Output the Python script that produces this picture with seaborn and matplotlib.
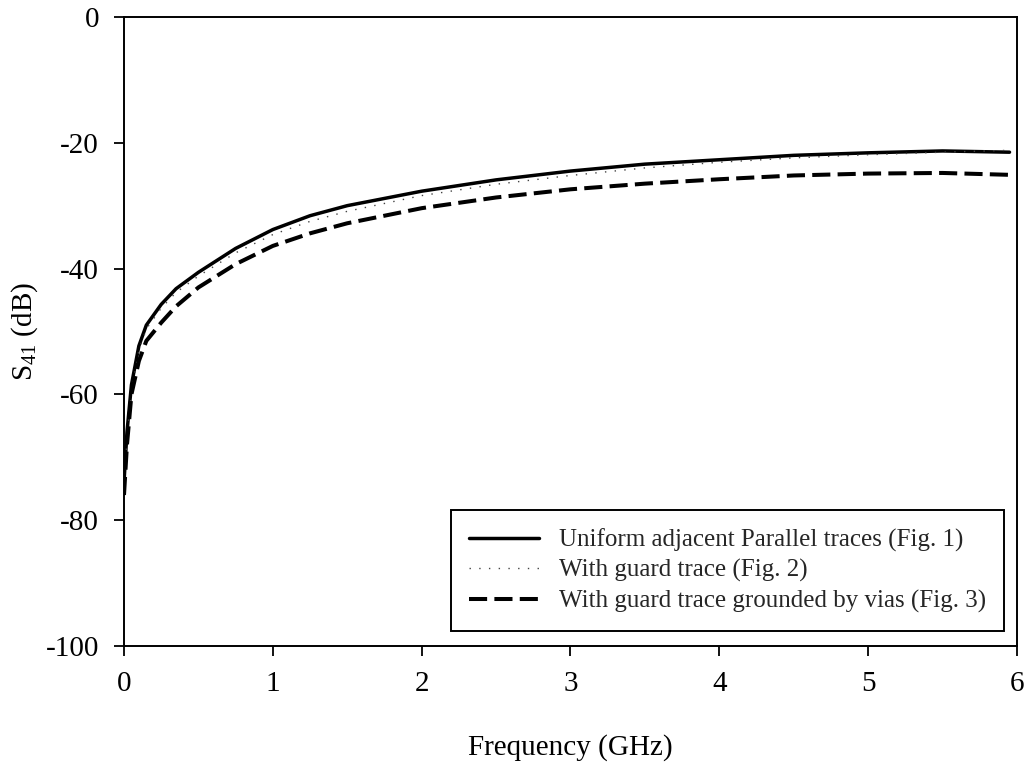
import numpy as np
import pandas as pd
import matplotlib
matplotlib.use("Agg")
import matplotlib.pyplot as plt
import seaborn as sns

freq = [0, 0.02, 0.05, 0.1, 0.15, 0.25, 0.35, 0.5, 0.75, 1, 1.25, 1.5, 2, 2.5, 3, 3.5, 4, 4.5, 5, 5.5, 5.95]
s41_uniform = [-74, -66, -58.5, -52.3, -49, -45.7, -43.2, -40.6, -36.8, -33.8, -31.6, -30, -27.7, -25.9, -24.5, -23.4, -22.7, -22, -21.6, -21.3, -21.5]
s41_guard = [-75, -67, -59.5, -53, -49.6, -46.3, -43.8, -41.2, -37.5, -34.6, -32.5, -30.9, -28.4, -26.6, -25.2, -24, -23.1, -22.4, -21.9, -21.5, -21.2]
s41_vias = [-76, -68, -60, -54.7, -51.5, -48.6, -46, -43, -39.3, -36.4, -34.4, -32.8, -30.4, -28.7, -27.4, -26.5, -25.8, -25.2, -24.9, -24.8, -25.1]
labels = ["Uniform adjacent Parallel traces (Fig. 1)",
          "With guard trace (Fig. 2)",
          "With guard trace grounded by vias (Fig. 3)"]

sns.set_theme(style="white")
plt.rcParams['font.family'] = ['Liberation Serif', 'DejaVu Serif']
plt.rcParams['mathtext.default'] = 'regular'
plt.rcParams['axes.unicode_minus'] = False

df = pd.DataFrame({
    "freq": freq * 3,
    "s41": s41_uniform + s41_guard + s41_vias,
    "series": [labels[0]] * len(freq) + [labels[1]] * len(freq) + [labels[2]] * len(freq),
})

fig = plt.figure(figsize=(10.29, 7.64), dpi=100)
ax = fig.add_axes([0.1205, 0.1545, 0.8678, 0.8233])

styles = [dict(lw=2.5, ls='-', color='black'),
          dict(lw=1.0, ls=(0, (1, 6)), color='#444444'),
          dict(lw=2.9, ls=(0, (4.5, 1.8)), color='black')]
for lab, st in zip(labels, styles):
    sub = df[df["series"] == lab]
    sns.lineplot(data=sub, x="freq", y="s41", ax=ax, label=lab,
                 color=st['color'], linewidth=st['lw'], linestyle=st['ls'])

ax.set_xlim(0, 6)
ax.set_ylim(-100, 0)
ax.set_xticks(range(0, 7))
ax.set_yticks(range(-100, 1, 20))
for s in ax.spines.values():
    s.set_color('black')
    s.set_linewidth(1.4)
ax.tick_params(axis='both', direction='out', length=7, width=1.3, color='black',
               labelsize=21, bottom=True, left=True, labelcolor='black')
ax.tick_params(axis='x', pad=11)
ax.tick_params(axis='y', pad=11)
ax.set_xlabel("Frequency (GHz)", fontsize=21, labelpad=27, color='black')
ax.set_ylabel(r"S$_{41}$ (dB)", fontsize=21, labelpad=4, color='black')

leg = ax.legend(loc='lower right', bbox_to_anchor=(0.9855, 0.024), fontsize=18,
                frameon=True, fancybox=False, edgecolor='black', framealpha=1,
                handlelength=2.8, borderpad=0.72, labelspacing=0.3, handletextpad=0.8,
                borderaxespad=0)
leg.get_frame().set_linewidth(1.4)

fig.savefig("out.png", dpi=100)
